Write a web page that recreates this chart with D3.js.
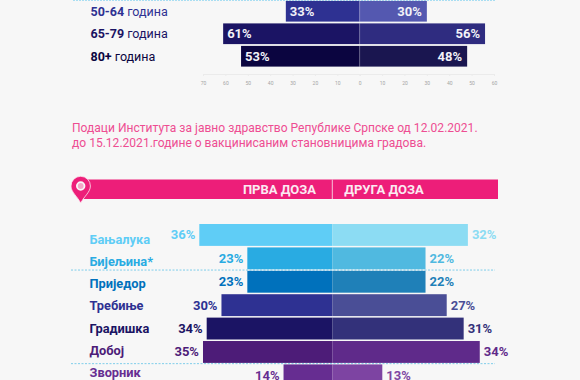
<!DOCTYPE html>
<html>
<head>
<meta charset="utf-8">
<script src="https://cdn.jsdelivr.net/npm/d3@7"></script>
<style>
html, body { margin: 0; padding: 0; background: #f7f7f7; overflow: hidden; }
text { font-family: Roboto, sans-serif; }
</style>
</head>
<body>
<div class="graph"></div>
<script>
// age groups, only the rows still visible in the crop
const ageGroups = ["50-64", "65-79", "80+"];
const ageFirst = [33, 61, 53];
const ageSecond = [30, 56, 48];
const ageTicksLeft = [70, 60, 50, 40, 30, 20, 10];
const ageTicksRight = [0, 10, 20, 30, 40, 50, 60];
const ageColorsLeft = ["#2e3192", "#1b1464", "#0b0540"];
const ageColorsRight = ["#5458b0", "#2f2c80", "#1a1650"];

const cities = ["Бањалука", "Бијељина*", "Приједор", "Требиње", "Градишка", "Добој", "Зворник"];
const cityFirstLabels = [36, 23, 23, 30, 34, 35, 14];
const citySecondLabels = [32, 22, 22, 27, 31, 34, 13];
// bar lengths as measured, the last rows do not quite agree with their labels
const cityFirstBars = [36, 23, 23, 30, 34, 35, 13.2];
const citySecondBars = [32, 22, 22, 27, 31, 34.8, 11.8];
const cityColorsLeft = ["#5fcdf6", "#29abe2", "#0071bc", "#2e3192", "#1b1464", "#4d1c78", "#662d91"];
const cityColorsRight = ["#8cdcf3", "#50b9e0", "#1f80b8", "#4a4e96", "#33317a", "#5f2a8a", "#7d44a2"];

const noteLines = [
    "Подаци Института за јавно здравство Републике Српске од 12.02.2021.",
    "до 15.12.2021.године о вакцинисаним становницима градова."
];
const headers = ["ПРВА ДОЗА", "ДРУГА ДОЗА"];

const pink = "#ed1e79";

let svg = d3.select(".graph")
    .append("svg")
    .attr("width", 580)
    .attr("height", 380)
    .style("display", "block");

// ---- top chart ----
let ageRight = d3.scaleLinear().domain([0, 60]).range([359.7, 494]);
let ageLeft = d3.scaleLinear().domain([0, 70]).range([359.7, 203]);
let ageY = d3.scaleBand().domain(ageGroups).range([0, 67.5]).paddingInner(0.08).paddingOuter(0.04);

svg.append("line")
    .attr("x1", 73).attr("x2", 495)
    .attr("y1", 0.5).attr("y2", 0.5)
    .attr("stroke", "#a9def2")
    .attr("stroke-dasharray", "2,1");

let ageRows = svg.selectAll("g.age")
    .data(ageGroups)
    .enter()
    .append("g")
    .attr("class", "age");

ageRows.append("rect")
    .attr("x", function(d, i) { return ageLeft(ageFirst[i]); })
    .attr("y", function(d) { return ageY(d); })
    .attr("width", function(d, i) { return ageLeft(0) - ageLeft(ageFirst[i]); })
    .attr("height", ageY.bandwidth())
    .attr("fill", function(d, i) { return ageColorsLeft[i]; });

ageRows.append("rect")
    .attr("x", ageRight(0))
    .attr("y", function(d) { return ageY(d); })
    .attr("width", function(d, i) { return ageRight(ageSecond[i]) - ageRight(0); })
    .attr("height", ageY.bandwidth())
    .attr("fill", function(d, i) { return ageColorsRight[i]; });

ageRows.append("text")
    .attr("x", function(d, i) { return ageLeft(ageFirst[i]) + 4; })
    .attr("y", function(d) { return ageY(d) + ageY.bandwidth() / 2 + 4.5; })
    .attr("fill", "#f2f2f8")
    .attr("font-size", 13)
    .attr("font-weight", 700)
    .text(function(d, i) { return ageFirst[i] + "%"; });

ageRows.append("text")
    .attr("x", function(d, i) { return ageRight(ageSecond[i]) - 5; })
    .attr("y", function(d) { return ageY(d) + ageY.bandwidth() / 2 + 4.5; })
    .attr("text-anchor", "end")
    .attr("fill", "#f2f2f8")
    .attr("font-size", 13)
    .attr("font-weight", 700)
    .text(function(d, i) { return ageSecond[i] + "%"; });

let ageLabel = ageRows.append("text")
    .attr("x", 90.5)
    .attr("y", function(d) { return ageY(d) + ageY.bandwidth() / 2 + 4.5; })
    .attr("font-size", 12.5)
    .attr("fill", function(d, i) { return ageColorsLeft[i]; });
ageLabel.append("tspan").attr("font-weight", 700).text(function(d) { return d; });
ageLabel.append("tspan").text(" година");

function styleAxis(g) {
    g.selectAll("path, line").attr("stroke", "#ebebeb");
    g.selectAll("text").attr("fill", "#a5a5a5").attr("font-size", 5).style("font-family", "Roboto, sans-serif");
}
svg.append("g")
    .attr("transform", "translate(0,74)")
    .call(d3.axisBottom(ageLeft).tickValues(ageTicksLeft).tickSize(2).tickPadding(5))
    .call(styleAxis);
svg.append("g")
    .attr("transform", "translate(0,74)")
    .call(d3.axisBottom(ageRight).tickValues(ageTicksRight).tickSize(2).tickPadding(5))
    .call(styleAxis);
svg.append("line")
    .attr("x1", ageRight(0)).attr("x2", ageRight(0))
    .attr("y1", 0).attr("y2", 74)
    .attr("stroke", "#ffffff")
    .attr("stroke-opacity", 0.2);

// ---- note ----
svg.selectAll("text.note")
    .data(noteLines)
    .enter()
    .append("text")
    .attr("class", "note")
    .attr("x", 72)
    .attr("y", function(d, i) { return 132 + i * 14.5; })
    .attr("font-size", 12.05)
    .attr("fill", "#ee4d92")
    .text(function(d) { return d; });

// ---- header strip ----
const centre = 332.3;
svg.append("rect")
    .attr("x", 84).attr("y", 179.5)
    .attr("width", 414).attr("height", 19.5)
    .attr("fill", pink);
svg.append("line")
    .attr("x1", centre).attr("x2", centre)
    .attr("y1", 179.5).attr("y2", 199)
    .attr("stroke", "#f6c4da");
svg.append("text")
    .attr("x", 316).attr("y", 194)
    .attr("text-anchor", "end")
    .attr("font-size", 13)
    .attr("font-weight", 700)
    .attr("fill", "#fbeaf2")
    .text(headers[0]);
svg.append("text")
    .attr("x", 344.3).attr("y", 194)
    .attr("font-size", 13)
    .attr("font-weight", 700)
    .attr("fill", "#fbeaf2")
    .text(headers[1]);

// pin marker
svg.append("path")
    .attr("d", "M80.7,203 C77,196 71,192 71,186 A9.7,9.7 0 1 1 90.4,186 C90.4,192 84.4,196 80.7,203 Z")
    .attr("fill", pink)
    .attr("stroke", "#fbe3ee")
    .attr("stroke-width", 0.8);
svg.append("circle")
    .attr("cx", 80.7).attr("cy", 186)
    .attr("r", 3.8)
    .attr("fill", "#f4a6c8")
    .attr("stroke", "#f7f7f7")
    .attr("stroke-width", 1.8);

// ---- city chart ----
let cityLeft = d3.scaleLinear().domain([0, 36]).range([centre, 199.3]);
let cityRight = d3.scaleLinear().domain([0, 32]).range([centre, 467.9]);
let cityY = d3.scaleBand().domain(cities).range([223.3, 387]).paddingInner(0.065).paddingOuter(0.03);
let cityLabelY = d3.scalePoint().domain(cities).range([243.5, 377]);

svg.selectAll("line.split")
    .data([1, 5])
    .enter()
    .append("line")
    .attr("class", "split")
    .attr("x1", 71).attr("x2", 495)
    .attr("y1", function(d) { return (cityY(cities[d]) + cityY.bandwidth() + cityY(cities[d + 1])) / 2; })
    .attr("y2", function(d) { return (cityY(cities[d]) + cityY.bandwidth() + cityY(cities[d + 1])) / 2; })
    .attr("stroke", "#7fcdea")
    .attr("stroke-dasharray", "2,1.5");

let cityRows = svg.selectAll("g.city")
    .data(cities)
    .enter()
    .append("g")
    .attr("class", "city");

cityRows.append("rect")
    .attr("x", function(d, i) { return cityLeft(cityFirstBars[i]); })
    .attr("y", function(d) { return cityY(d); })
    .attr("width", function(d, i) { return centre - cityLeft(cityFirstBars[i]); })
    .attr("height", cityY.bandwidth())
    .attr("fill", function(d, i) { return cityColorsLeft[i]; });

cityRows.append("rect")
    .attr("x", centre)
    .attr("y", function(d) { return cityY(d); })
    .attr("width", function(d, i) { return cityRight(citySecondBars[i]) - centre; })
    .attr("height", cityY.bandwidth())
    .attr("fill", function(d, i) { return cityColorsRight[i]; });

cityRows.append("text")
    .attr("x", function(d, i) { return cityLeft(cityFirstBars[i]) - 4; })
    .attr("y", function(d) { return cityY(d) + cityY.bandwidth() / 2 + 4.5; })
    .attr("text-anchor", "end")
    .attr("font-size", 13)
    .attr("font-weight", 700)
    .attr("fill", function(d, i) { return cityColorsLeft[i]; })
    .text(function(d, i) { return cityFirstLabels[i] + "%"; });

cityRows.append("text")
    .attr("x", function(d, i) { return cityRight(citySecondBars[i]) + 4; })
    .attr("y", function(d) { return cityY(d) + cityY.bandwidth() / 2 + 4.5; })
    .attr("font-size", 13)
    .attr("font-weight", 700)
    .attr("fill", function(d, i) { return cityColorsRight[i]; })
    .text(function(d, i) { return citySecondLabels[i] + "%"; });

cityRows.append("text")
    .attr("x", 89.5)
    .attr("y", function(d) { return cityLabelY(d); })
    .attr("font-size", 12.8)
    .attr("font-weight", 700)
    .attr("fill", function(d, i) { return cityColorsLeft[i]; })
    .text(function(d) { return d; });
</script>
</body>
</html>
